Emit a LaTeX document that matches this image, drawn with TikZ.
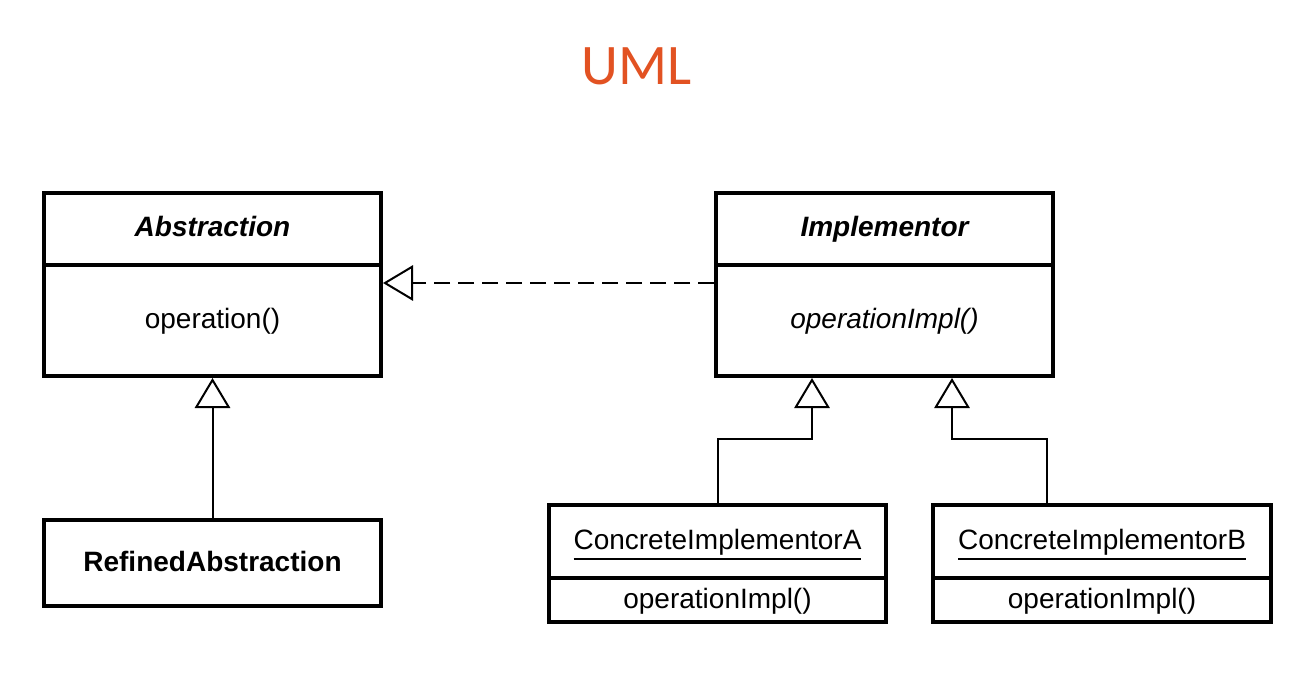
\documentclass[tikz,border=0pt]{standalone}
\usepackage{fontspec}
\setmainfont{Liberation Sans}
\newfontfamily\titlefont{Carlito}
\usetikzlibrary{arrows.meta}
\definecolor{umlorange}{RGB}{226,82,34}
\newcommand\clsul[1]{\leavevmode\vtop{\hbox{#1}\kern1.8pt\hrule height 1.5pt}}
\begin{document}
\begin{tikzpicture}[x=0.75pt,y=-0.75pt,
  cls/.style={draw, line width=3pt, inner sep=0pt, anchor=north west, align=center,
              text height=16pt, text depth=4pt,
              font=\fontsize{21}{25}\selectfont, minimum width=252.75pt},
  gen/.style={line width=1.5pt, -{Triangle[open, length=22.5pt, width=26.5pt, line width=1.5pt]}},
  realize/.style={gen, dash pattern=on 12pt off 6pt}]
\path[use as bounding box, fill=white] (0,0) rectangle (1301,680);
\node[font=\titlefont\fontsize{43}{50}\selectfont, text=umlorange] (title) at (636.5,66) {UML};
% Abstraction
\node[cls, minimum height=54pt] (absH) at (42,191) {\bfseries\itshape Abstraction};
\node[cls, minimum height=83.25pt] (absB) at (42,263) {operation()};
% Implementor
\node[cls, minimum height=54pt] (impH) at (714,191) {\bfseries\itshape Implementor};
\node[cls, minimum height=83.25pt] (impB) at (714,263) {\itshape operationImpl()};
% RefinedAbstraction
\node[cls, minimum height=64.5pt] (ref) at (42,518) {\bfseries RefinedAbstraction};
% ConcreteImplementorA
\node[cls, minimum height=54.75pt] (caH) at (547,503) {\clsul{ConcreteImplementorA}};
\node[cls, minimum height=33pt] (caB) at (547,576) {operationImpl()};
% ConcreteImplementorB
\node[cls, minimum width=253.5pt, minimum height=54.75pt] (cbH) at (931,503) {\clsul{ConcreteImplementorB}};
\node[cls, minimum width=253.5pt, minimum height=33pt] (cbB) at (931,576) {operationImpl()};
% connectors
\coordinate (ta) at ([xshift=73.5pt]impB.south west);
\coordinate (tb) at ([xshift=178.5pt]impB.south west);
\coordinate (lb) at ([xshift=87pt]cbH.north west);
\draw[gen] (ref.north) -- (absB.south);
\draw[realize] ([yshift=-15pt]impB.north west) -- ([yshift=-15pt]absB.north east);
\draw[gen] (caH.north) -- ++(0,-64) -| (ta);
\draw[gen] (lb) -- ++(0,-64) -| (tb);
\end{tikzpicture}
\end{document}
